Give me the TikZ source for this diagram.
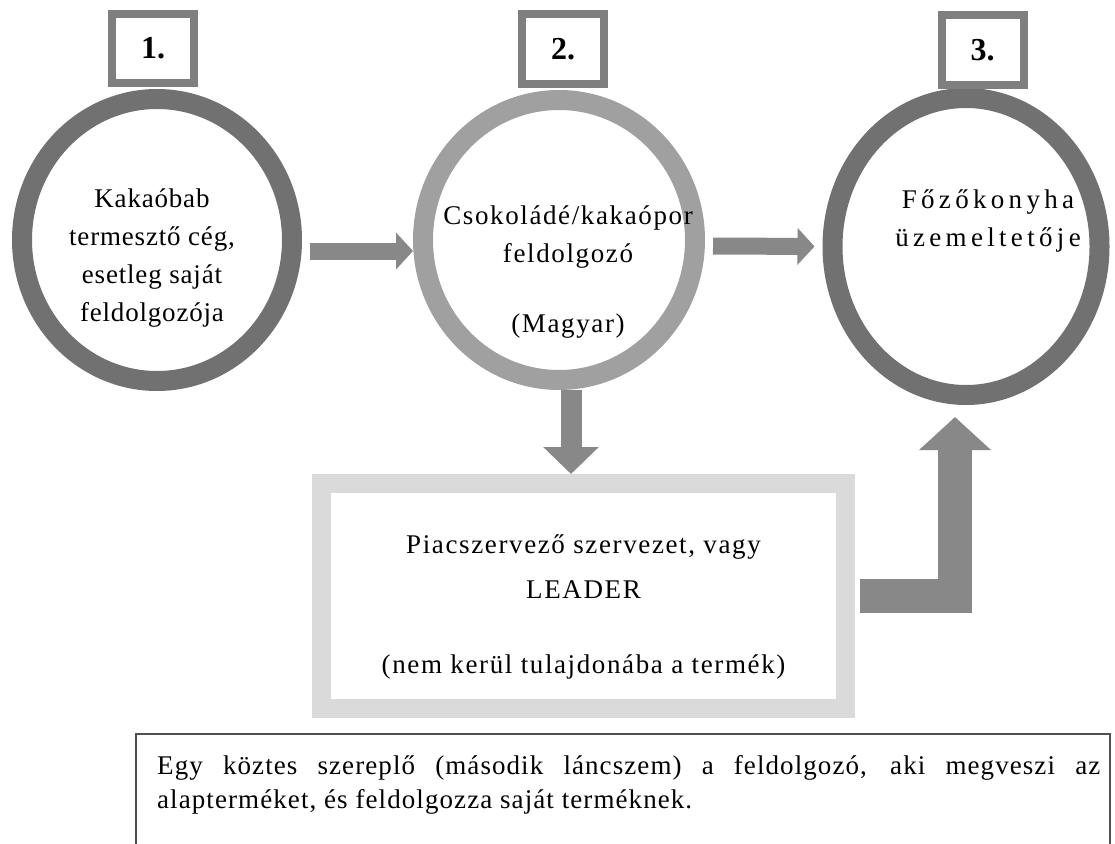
\documentclass[tikz,border=0pt]{standalone}
\usepackage{fontspec}
\setmainfont{Liberation Serif}
\usetikzlibrary{arrows.meta,shapes.geometric}

\definecolor{ringdark}{HTML}{717171}
\definecolor{ringlight}{HTML}{A0A0A0}
\definecolor{numedge}{HTML}{7F7F7F}
\definecolor{arrowgray}{HTML}{888888}
\definecolor{framegray}{HTML}{DADADA}
\definecolor{noteedge}{HTML}{505050}

\tikzset{
  ring/.style={ellipse, draw=#1, line width=20pt, fill=white, inner sep=0pt},
  numbox/.style={draw=numedge, line width=8pt, fill=white, minimum width=82pt,
    minimum height=69pt, inner sep=0pt, font=\fontsize{32}{36}\selectfont\bfseries},
  lbl/.style={align=center, inner sep=0pt, anchor=north,
    font=\fontsize{27}{37.7}\selectfont\addfontfeature{LetterSpace=#1}},
  blk/.style={draw=arrowgray, line width=17pt, -{Triangle[width=36pt,length=17pt]}},
  blkdown/.style={draw=arrowgray, line width=21pt, -{Triangle[width=54pt,length=27pt]}},
  blkturn/.style={draw=arrowgray, line width=34pt, line join=miter,
    -{Triangle[width=70pt,length=33pt]}}
}

\begin{document}
\begin{tikzpicture}[x=1pt, y=-1pt]
  \useasboundingbox (0,0) rectangle (1115,843);

  % a lanc harom szereploje
  \node[ring=ringdark, minimum width=270pt, minimum height=282pt] (c1) at (157,240) {};
  \node[ring=ringlight, minimum width=272pt, minimum height=280pt] (c2) at (559,240) {};
  \node[ring=ringdark, minimum width=267pt, minimum height=297pt] (c3) at (966,246.5) {};

  % sorszamok
  \node[numbox] (n1) at (153,48.5) {1.};
  \node[numbox] (n2) at (563,49) {2.};
  \node[numbox] (n3) at (982.5,50) {3.};

  % szovegek a korokben
  \node[lbl=3] (t1) at (152,189) {Kakaóbab\\termesztő cég,\\esetleg saját\\feldolgozója};
  \node[lbl=6] (t2) at (568,206) {Csokoládé/kakaópor\\feldolgozó\\[32pt](Magyar)};
  \node[lbl=16] (t3) at (988,190) {Főzőkonyha\\üzemeltetője};

  % piacszervezo doboz
  \node[draw=framegray, line width=19pt, minimum width=524pt, minimum height=225pt,
    inner sep=0pt] (big) at (583.5,596) {};
  \node[lbl=6, font=\fontsize{27}{45}\selectfont\addfontfeature{LetterSpace=6}] (bt) at (583.5,535)
    {Piacszervező szervezet, vagy\\LEADER\\[30pt](nem kerül tulajdonába a termék)};

  % nyilak
  \draw[blk] ([xshift=8pt,yshift=-11pt]c1.east) -- ([yshift=-11pt]c2.west);
  \draw[blk, shorten >=8pt] ([xshift=8pt,yshift=-6pt]c2.east) -- (c3.west);
  \draw[blkdown] ([xshift=12pt]c2.south) -- ([xshift=-12.5pt]big.north);
  \draw[blkturn] ([xshift=5pt]big.east) -| ([xshift=-11pt,yshift=-12pt]c3.south);

  % magyarazo szoveg
  \node[draw=noteedge, line width=1.5pt, minimum width=974pt, minimum height=140pt,
    inner sep=0pt, anchor=north west] (note) at (135,733) {};
  \node[inner sep=0pt, anchor=north west, text width=943pt, align=justify,
    font=\fontsize{27}{34}\selectfont\addfontfeature{LetterSpace=4}] (nt) at (157,755)
    {Egy köztes szereplő (második láncszem) a feldolgozó, aki megveszi az\linebreak
     alapterméket, és feldolgozza saját terméknek.};
\end{tikzpicture}
\end{document}
